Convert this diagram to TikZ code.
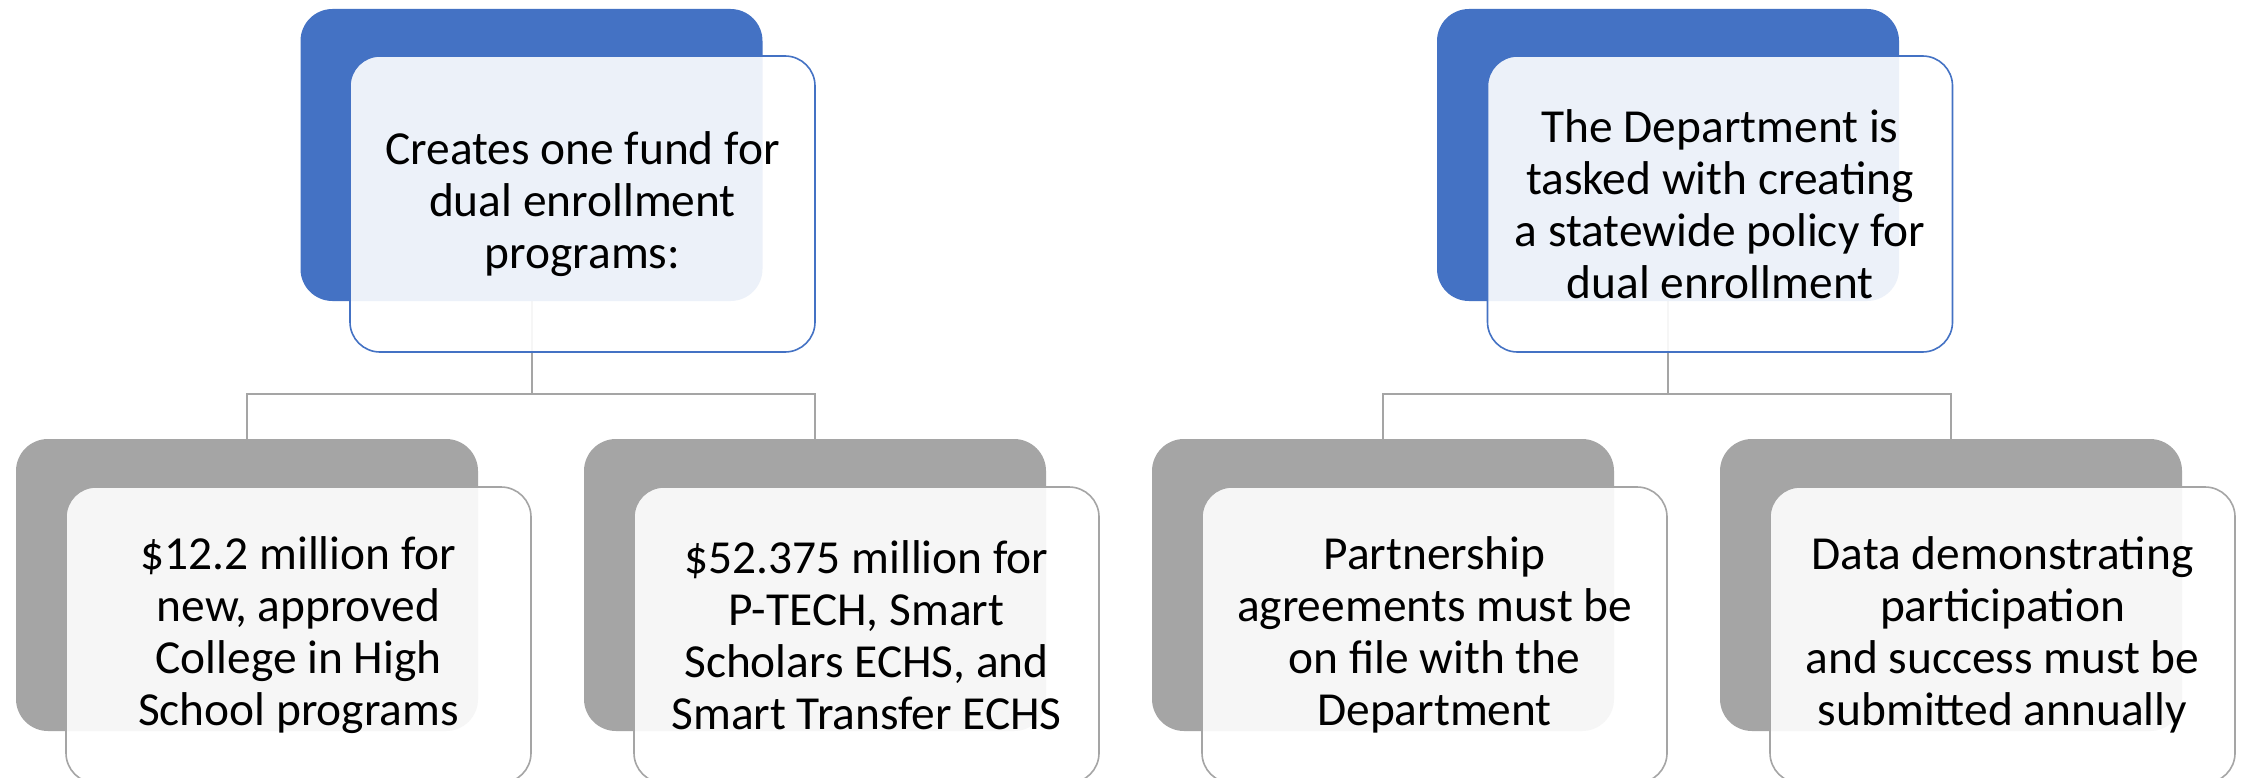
\documentclass[tikz,border=0pt]{standalone}
\usepackage{fontspec}
\setmainfont{Carlito}
\definecolor{accblue}{HTML}{4472C4}
\definecolor{accgray}{HTML}{A5A5A5}
\pgfdeclarelayer{bg}
\pgfsetlayers{bg,main}
\begin{document}
\begin{tikzpicture}[x=1pt,y=-1pt,
  backbox/.style={rounded corners=32pt, minimum width=462pt, minimum height=292pt, inner sep=0pt, draw=none},
  frontbox/.style={rounded corners=30pt, minimum width=465pt, minimum height=296pt, inner sep=0pt,
     fill=white, fill opacity=0.9, text opacity=1, line width=1.6pt, align=center,
     font=\fontsize{47.4}{52}\selectfont},
  link/.style={draw=accgray, line width=2pt}]
\useasboundingbox (0,0) rectangle (2242,778);
% back shapes
\node[backbox, fill=accblue] (p1) at (531.5,155) {};
\node[backbox, fill=accblue] (p2) at (1668,155) {};
\node[backbox, fill=accgray] (c1) at (247,585) {};
\node[backbox, fill=accgray] (c2) at (815,585) {};
\node[backbox, fill=accgray] (c3) at (1383,585) {};
\node[backbox, fill=accgray] (c4) at (1951,585) {};
% front shapes
\node[frontbox, draw=accblue] (p1f) at (582.5,204) {Creates one fund for\\dual enrollment\\programs:};
\node[frontbox, draw=accblue] (p2f) at (1720,204) {The Department is\\tasked with creating\\a statewide policy for\\dual enrollment};
\node[frontbox, draw=accgray] (c1f) at (298.5,635) {\$12.2 million for\\new, approved\\College in High\\School programs};
\node[frontbox, draw=accgray] (c2f) at (866.5,635) {\$52.375 million for\\P-TECH, Smart\\Scholars ECHS, and\\Smart Transfer ECHS};
\node[frontbox, draw=accgray] (c3f) at (1434.5,635) {Partnership\\agreements must be\\on file with the\\Department};
\node[frontbox, draw=accgray] (c4f) at (2002.5,635) {Data demonstrating\\participation\\and success must be\\submitted annually};
% connectors
\begin{pgfonlayer}{bg}
\fill[white] (0,0) rectangle (2242,778);
\coordinate (j1) at (531.5,394);
\coordinate (j2) at (1668,394);
\draw[link] (p1.center) -- (j1);
\draw[link] (j1) -| (c1.north);
\draw[link] (j1) -| (c2.north);
\draw[link] (p2.center) -- (j2);
\draw[link] (j2) -| (c3.north);
\draw[link] (j2) -| (c4.north);
\end{pgfonlayer}
\end{tikzpicture}
\end{document}
